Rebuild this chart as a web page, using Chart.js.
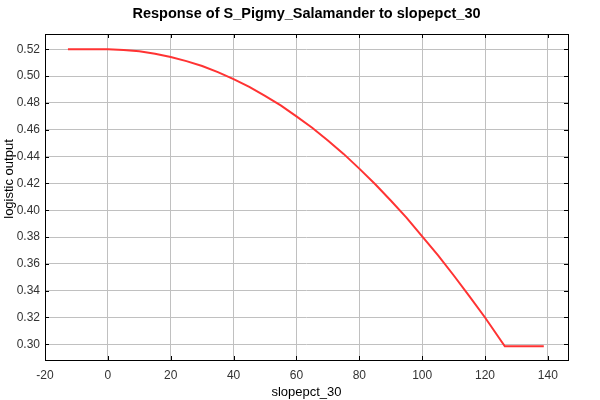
<!DOCTYPE html>
<html>
<head>
<meta charset="utf-8">
<script src="https://cdn.jsdelivr.net/npm/chart.js@4.4.1/dist/chart.umd.min.js"></script>
<style>
  html, body { margin: 0; padding: 0; background: #fff; }
  #wrap { width: 600px; height: 400px; }
</style>
</head>
<body>
<div id="wrap"><canvas id="c" width="600" height="400"></canvas></div>
<script>
// values
const slopeVals = [-12.7, 0, 5, 10, 15, 20, 25, 30, 35, 40, 45, 50, 55, 60, 65, 70, 75, 80, 85, 90, 95, 100, 105, 110, 115, 120, 126.3, 138.7];
const outputVals = [0.520, 0.520, 0.5195, 0.5185, 0.5167, 0.5143, 0.5112, 0.5075, 0.5030, 0.4978, 0.4920, 0.4853, 0.4782, 0.4700, 0.4615, 0.4520, 0.4420, 0.4310, 0.4195, 0.4072, 0.3945, 0.3805, 0.3665, 0.3515, 0.3360, 0.3200, 0.2985, 0.2985];
const xTicks = [-20, 0, 20, 40, 60, 80, 100, 120, 140];
const yTicks = [0.30, 0.32, 0.34, 0.36, 0.38, 0.40, 0.42, 0.44, 0.46, 0.48, 0.50, 0.52];
const yTitle = "logistic output";

const FONT = "'Liberation Sans', Arial, sans-serif";

// frame + short inward tick marks on all four sides, y title sits a bit above centre
const frameTicks = {
  id: "frameTicks",
  afterDraw(chart) {
    const { ctx, chartArea: a, scales } = chart;
    const len = 4;
    ctx.save();
    ctx.strokeStyle = "#000";
    ctx.lineWidth = 1;
    ctx.beginPath();
    xTicks.forEach(v => {
      const px = Math.round(scales.x.getPixelForValue(v)) + 0.5;
      ctx.moveTo(px, a.bottom); ctx.lineTo(px, a.bottom - len);
      ctx.moveTo(px, a.top); ctx.lineTo(px, a.top + len);
    });
    yTicks.forEach(v => {
      const py = Math.round(scales.y.getPixelForValue(v)) + 0.5;
      ctx.moveTo(a.left, py); ctx.lineTo(a.left + len, py);
      ctx.moveTo(a.right, py); ctx.lineTo(a.right - len, py);
    });
    ctx.stroke();
    ctx.strokeRect(Math.round(a.left) + 0.5, Math.round(a.top) + 0.5,
      Math.round(a.right - a.left), Math.round(a.bottom - a.top));

    // y axis title
    ctx.translate(9, (a.top + a.bottom) / 2 - 18);
    ctx.rotate(-Math.PI / 2);
    ctx.fillStyle = "#000";
    ctx.font = `13px ${FONT}`;
    ctx.textAlign = "center";
    ctx.textBaseline = "middle";
    ctx.fillText(yTitle, 0, 0);
    ctx.restore();
  }
};

new Chart(document.getElementById("c").getContext("2d"), {
  type: "line",
  data: {
    datasets: [{
      data: slopeVals.map((x, i) => ({ x, y: outputVals[i] })),
      borderColor: "#ff3333",
      borderWidth: 2,
      pointRadius: 0,
      tension: 0,
      fill: false,
    }],
  },
  options: {
    responsive: false,
    animation: false,
    layout: { padding: { left: 0, right: 32, top: 0, bottom: 0 } },
    plugins: {
      legend: { display: false },
      tooltip: { enabled: false },
      title: {
        display: true,
        fullSize: false,
        text: "Response of S_Pigmy_Salamander to slopepct_30",
        color: "#000",
        font: { family: FONT, size: 14.5, weight: "bold", lineHeight: 1.2 },
        padding: { top: 5, bottom: 11.6 },
      },
    },
    scales: {
      x: {
        type: "linear",
        min: -20,
        max: 146.4,
        afterBuildTicks: s => { s.ticks = xTicks.map(v => ({ value: v })); },
        afterFit: s => { s.height = 40; },
        grid: { color: "#c0c0c0", drawTicks: false },
        border: { display: false },
        ticks: { color: "#333", padding: 8, font: { family: FONT, size: 12 }, maxRotation: 0 },
        title: {
          display: true, text: "slopepct_30", color: "#000",
          font: { family: FONT, size: 13 }, padding: { top: 0, bottom: 0 },
        },
      },
      y: {
        type: "linear",
        min: 0.2883,
        max: 0.5314,
        afterBuildTicks: s => { s.ticks = yTicks.map(v => ({ value: v })); },
        afterFit: s => { s.width = 45; },
        grid: { color: "#c0c0c0", drawTicks: false },
        border: { display: false },
        ticks: {
          color: "#333", padding: 5, font: { family: FONT, size: 12 },
          callback: v => Number(v).toFixed(2),
        },
      },
    },
  },
  plugins: [frameTicks],
});
</script>
</body>
</html>
